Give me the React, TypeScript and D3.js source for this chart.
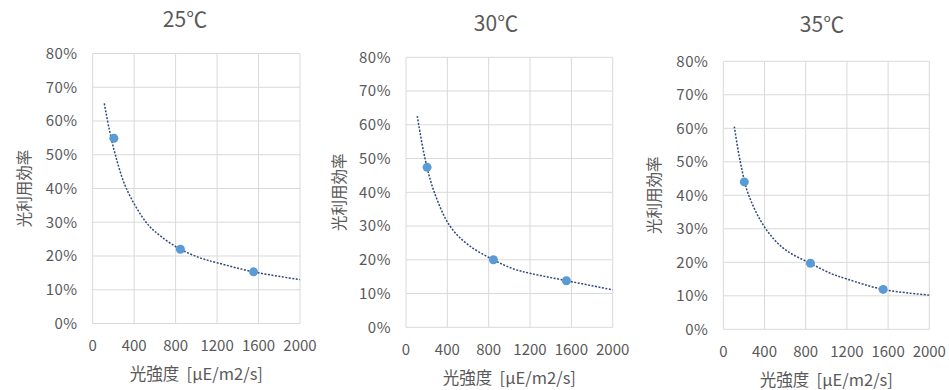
import * as d3 from 'd3';

const TEMPS = ['25℃', '30℃', '35℃'];
const LIGHT = [204, 846, 1552];
const EFF_25 = [0.549, 0.22, 0.153];
const EFF_30 = [0.474, 0.2, 0.138];
const EFF_35 = [0.44, 0.197, 0.119];

// dotted trendline
const TREND_X_25 = [112, 160, 218, 325, 515, 650, 846, 1050, 1200, 1552, 2000];
const TREND_25 = [0.652, 0.575, 0.5, 0.4, 0.3, 0.26, 0.22, 0.193, 0.18, 0.153, 0.13];
const TREND_X_30 = [109, 184, 274, 425, 600, 845, 1050, 1200, 1555, 2000];
const TREND_30 = [0.626, 0.5, 0.4, 0.3, 0.245, 0.2, 0.172, 0.16, 0.138, 0.111];
const TREND_X_35 = [107, 165, 247, 412, 600, 845, 1050, 1200, 1553, 2000];
const TREND_35 = [0.605, 0.5, 0.4, 0.3, 0.238, 0.197, 0.166, 0.15, 0.119, 0.102];

const X_TICKS = [0, 400, 800, 1200, 1600, 2000];
const Y_TICKS = [0, 0.1, 0.2, 0.3, 0.4, 0.5, 0.6, 0.7, 0.8];

const Y_LABEL = '光利用効率';
const X_LABEL = '光強度  [μE/m2/s]';

const FONT = '"Noto Sans CJK JP", "Noto Sans", sans-serif';
const TEXT = '#595959';

const PANELS = [
  { title: TEMPS[0], pts: EFF_25, tx: TREND_X_25, ty: TREND_25, left: 92.7, right: 300, top: 53.5, bottom: 323.5, titleX: 185, titleY: 27, yLabX: 25 },
  { title: TEMPS[1], pts: EFF_30, tx: TREND_X_30, ty: TREND_30, left: 406, right: 612.7, top: 57.3, bottom: 327.3, titleX: 496, titleY: 31, yLabX: 340 },
  { title: TEMPS[2], pts: EFF_35, tx: TREND_X_35, ty: TREND_35, left: 723.3, right: 929.3, top: 61.3, bottom: 329.3, titleX: 822, titleY: 32, yLabX: 655 },
];

function Panel({ p }: { p: typeof PANELS[number] }) {
  const x = d3.scaleLinear().domain([0, 2000]).range([p.left, p.right]);
  const y = d3.scaleLinear().domain([0, 0.8]).range([p.bottom, p.top]);
  const pct = d3.format('.0%');
  const trend = d3.line<number>()
    .x((_, i) => x(p.tx[i]))
    .y(d => y(d))
    .curve(d3.curveCatmullRom.alpha(0.5))(p.ty) || '';
  const midY = (p.top + p.bottom) / 2;
  const midX = (p.left + p.right) / 2;
  return (
    <g>
      <text x={p.titleX} y={p.titleY} textAnchor="middle" fontSize={21} fill={TEXT} fontFamily={FONT}>{p.title}</text>
      {X_TICKS.map(t => (
        <line key={'vx' + t} x1={x(t)} x2={x(t)} y1={p.top} y2={p.bottom} stroke="#d9d9d9" strokeWidth={1} />
      ))}
      {Y_TICKS.map(t => (
        <line key={'hy' + t} x1={p.left} x2={p.right} y1={y(t)} y2={y(t)} stroke="#d9d9d9" strokeWidth={1} />
      ))}
      {Y_TICKS.map(t => (
        <text key={'ty' + t} x={p.left - 15} y={y(t)} dy="0.35em" textAnchor="end" fontSize={15} letterSpacing={0.5} fill={TEXT} fontFamily={FONT}>{pct(t)}</text>
      ))}
      {X_TICKS.map(t => (
        <text key={'tx' + t} x={x(t)} y={p.bottom + 22} dy="0.35em" textAnchor="middle" fontSize={15} fill={TEXT} fontFamily={FONT}>{t}</text>
      ))}
      <text transform={`translate(${p.yLabX},${midY}) rotate(-90)`} textAnchor="middle" dy="0.35em" fontSize={15.5} fill={TEXT} fontFamily={FONT}>{Y_LABEL}</text>
      <text x={midX} y={p.bottom + 51} dy="0.35em" textAnchor="middle" fontSize={16.5} fill={TEXT} fontFamily={FONT} style={{ whiteSpace: 'pre' }}>{X_LABEL}</text>
      <path d={trend} fill="none" stroke="#2e4a7d" strokeWidth={1.5} strokeDasharray="2,1.5" />
      {p.pts.map((v, i) => (
        <circle key={i} cx={x(LIGHT[i])} cy={y(v)} r={4.5} fill="#5b9bd5" />
      ))}
    </g>
  );
}

export default function App() {
  return (
    <svg width={949} height={390} style={{ position: 'absolute', left: 0, top: 0, background: '#fff' }}>
      <rect width={949} height={390} fill="#fff" />
      {PANELS.map(p => <Panel key={p.title} p={p} />)}
    </svg>
  );
}
